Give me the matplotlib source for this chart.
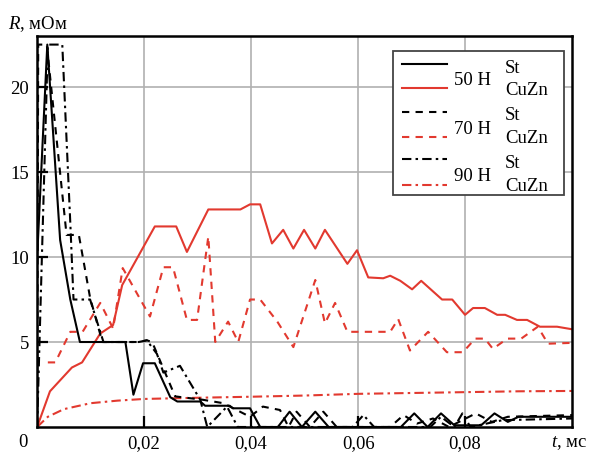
import matplotlib
matplotlib.use('Agg')
import matplotlib.pyplot as plt
from matplotlib.patches import Rectangle

plt.rcParams['font.family'] = ['Liberation Serif', 'DejaVu Serif']
plt.rcParams['mathtext.fontset'] = 'custom'
plt.rcParams['mathtext.it'] = 'Liberation Serif:italic'
plt.rcParams['mathtext.rm'] = 'Liberation Serif'

red = '#e2392f'

# 50 H, St
t_st50 = [0, 0.0019, 0.0043, 0.0062, 0.008, 0.0165, 0.018, 0.0198, 0.022, 0.0249, 0.0262,
          0.0305, 0.0314, 0.036, 0.0366, 0.0398, 0.0417, 0.045, 0.0472, 0.0495, 0.052,
          0.0545, 0.068, 0.0705, 0.073, 0.0755, 0.078, 0.083, 0.0855, 0.088, 0.09, 0.1]
r_st50 = [10, 22.5, 11.0, 7.5, 5.0, 5.0, 1.9, 3.75, 3.75, 1.75, 1.5,
          1.5, 1.25, 1.25, 1.1, 1.1, 0, 0, 0.9, 0, 0.9,
          0, 0, 0.8, 0, 0.8, 0.1, 0.1, 0.8, 0.3, 0.6, 0.6]

# 50 H, CuZn
t_cu50 = [0, 0.0024, 0.0065, 0.0084, 0.0118, 0.0142, 0.0159, 0.022, 0.026, 0.028, 0.032,
          0.038, 0.0398, 0.0417, 0.0439, 0.046, 0.0479, 0.0499, 0.052, 0.0538, 0.058,
          0.0598, 0.0619, 0.0647, 0.066, 0.0679, 0.0701, 0.0718, 0.0757, 0.0776, 0.08,
          0.0815, 0.0837, 0.086, 0.0875, 0.0897, 0.0916, 0.094, 0.0972, 0.1]
r_cu50 = [0, 2.1, 3.5, 3.8, 5.5, 6.0, 8.35, 11.8, 11.8, 10.3, 12.8,
          12.8, 13.1, 13.1, 10.8, 11.6, 10.5, 11.6, 10.5, 11.6, 9.6,
          10.4, 8.8, 8.75, 8.9, 8.6, 8.1, 8.6, 7.5, 7.5, 6.6,
          7.0, 7.0, 6.6, 6.6, 6.3, 6.3, 5.9, 5.9, 5.75]

# 70 H, St
t_st70 = [0, 0.0002, 0.0018, 0.0055, 0.0078, 0.0099, 0.0122, 0.019, 0.0205, 0.0215,
          0.0258, 0.031, 0.0348, 0.0398, 0.0422, 0.0454, 0.047, 0.0485, 0.051, 0.0535,
          0.056, 0.066, 0.0685, 0.071, 0.074, 0.077, 0.082, 0.085, 0.088, 0.1]
r_st70 = [0, 22.5, 22.5, 11.3, 11.3, 7.6, 5.0, 5.0, 5.1, 5.0,
          1.8, 1.6, 1.4, 0.6, 1.2, 1.0, 0, 0.9, 0, 0.9,
          0, 0, 0.7, 0.2, 0.5, 0, 0.8, 0.3, 0.6, 0.7]

# 70 H, CuZn
t_cu70 = [0.002, 0.0034, 0.0062, 0.0085, 0.0118, 0.0142, 0.016, 0.0193, 0.0211, 0.0236,
          0.0254, 0.028, 0.0299, 0.032, 0.0333, 0.0357, 0.0376, 0.0398, 0.0417, 0.0449,
          0.0479, 0.052, 0.0538, 0.0557, 0.058, 0.066, 0.0675, 0.0697, 0.0731, 0.0766,
          0.0796, 0.0819, 0.0837, 0.0852, 0.0879, 0.0905, 0.0936, 0.0955, 0.1]
r_cu70 = [3.8, 3.8, 5.6, 5.6, 7.3, 5.8, 9.35, 7.5, 6.5, 9.4,
          9.4, 6.3, 6.3, 11.2, 5.0, 6.2, 5.0, 7.5, 7.5, 6.2,
          4.7, 8.65, 6.1, 7.3, 5.6, 5.6, 6.35, 4.5, 5.6, 4.4,
          4.4, 5.2, 5.2, 4.6, 5.2, 5.2, 5.9, 4.9, 4.95]

# 90 H, St
t_st90 = [0, 0.002, 0.0047, 0.0062, 0.0068, 0.0099, 0.0124, 0.019, 0.0205, 0.0224,
          0.0236, 0.0267, 0.0305, 0.0318, 0.0355, 0.0375, 0.059, 0.061, 0.063, 0.0735,
          0.0755, 0.078, 0.0795, 0.081, 0.087, 0.1]
r_st90 = [0, 22.5, 22.5, 12.0, 7.5, 7.5, 5.0, 5.0, 5.1, 4.3,
          3.2, 3.6, 1.6, 0, 1.2, 0, 0, 0.7, 0, 0,
          0.6, 0, 0.8, 0, 0.4, 0.5]

# 90 H, CuZn
t_cu90 = [0, 0.002, 0.005, 0.01, 0.015, 0.02, 0.03, 0.04, 0.05, 0.06, 0.07, 0.08, 0.09, 0.1]
r_cu90 = [0, 0.6, 1.05, 1.4, 1.55, 1.65, 1.72, 1.78, 1.85, 1.95, 2.0, 2.05, 2.1, 2.12]

xticks = [0.02, 0.04, 0.06, 0.08]
xticklabels = ['0,02', '0,04', '0,06', '0,08']
yticks = [5, 10, 15, 20]

dash = (3.5, 3)
dashdot = (4.5, 2, 1.2, 2)

fig = plt.figure(figsize=(5.99, 4.54), dpi=100)
ax = fig.add_axes([0.062, 0.0595, 0.893, 0.861])

lw = 1.5
ax.plot(t_cu90, r_cu90, color=red, lw=lw, dashes=dashdot)
ax.plot(t_cu70, r_cu70, color=red, lw=lw, dashes=dash)
ax.plot(t_cu50, r_cu50, color=red, lw=lw)
ax.plot(t_st90, r_st90, color='black', lw=lw, dashes=dashdot)
ax.plot(t_st70, r_st70, color='black', lw=lw, dashes=dash)
ax.plot(t_st50, r_st50, color='black', lw=lw)

ax.set_xlim(0, 0.1)
ax.set_ylim(0, 23)
ax.set_xticks(xticks)
ax.set_xticklabels(xticklabels)
ax.set_yticks(yticks)
ax.grid(True, color='#b0b0b0', lw=1.2)
ax.tick_params(direction='in', length=8, width=1.6, labelsize=13.5, pad=6)
for s in ax.spines.values():
    s.set_linewidth(1.8)

ax.text(-0.027, -0.04, '0', transform=ax.transAxes, fontsize=13.5, ha='center', va='center')
ax.text(0.995, -0.04, '$\\mathit{t}$, мс', transform=ax.transAxes, fontsize=13.5, ha='center', va='center')
ax.text(-0.055, 1.03, '$\\mathit{R}$, мОм', transform=ax.transAxes, fontsize=13.5, ha='left', va='center')

# legend box drawn by hand
ax.add_patch(Rectangle((0.665, 0.593), 0.32, 0.369, transform=ax.transAxes,
                       facecolor='white', edgecolor='#444444', lw=1.3, zorder=5))
rows = [0.928, 0.867, 0.806, 0.742, 0.685, 0.619]
styles = [(None, 'black'), (None, red), (dash, 'black'), (dash, red),
          (dashdot, 'black'), (dashdot, red)]
for y, (d, c) in zip(rows, styles):
    ln, = ax.plot([0.682, 0.766], [y, y], transform=ax.transAxes, color=c, lw=lw, zorder=6)
    if d:
        ln.set_dashes(d)
for i, name in enumerate(['50 Н', '70 Н', '90 Н']):
    y0 = rows[2 * i]
    y1 = rows[2 * i + 1]
    ax.text(0.78, (y0 + y1) / 2 - 0.012, name, transform=ax.transAxes, fontsize=13.5,
            ha='left', va='center', zorder=7)
    ax.text(0.875, y0 - 0.01, 'St', transform=ax.transAxes, fontsize=13.5,
            ha='left', va='center', zorder=7)
    ax.text(0.875, y1 - 0.005, 'CuZn', transform=ax.transAxes, fontsize=13.5,
            ha='left', va='center', zorder=7)

fig.savefig('out.png', dpi=100)
